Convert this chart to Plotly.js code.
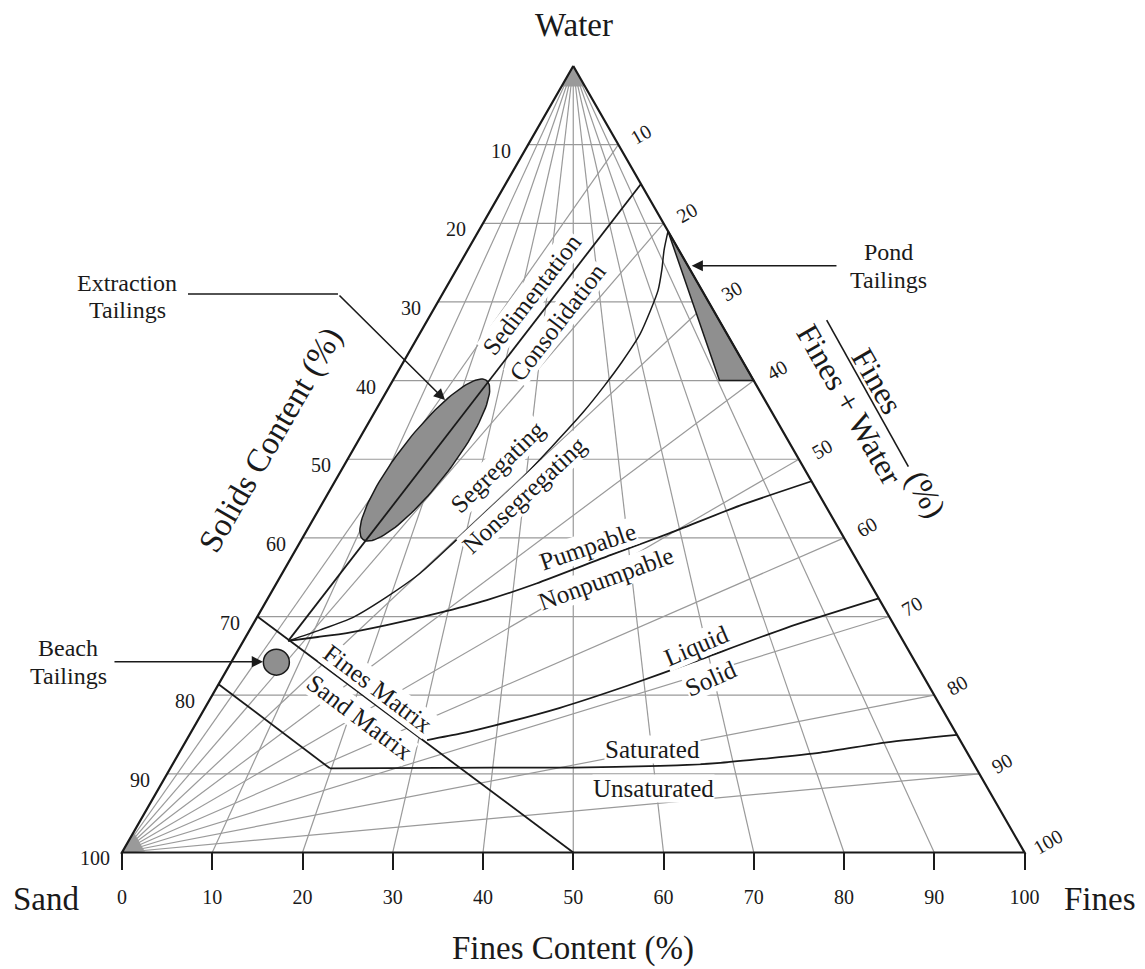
<!DOCTYPE html>
<html>
<head>
<meta charset="utf-8">
<script src="https://cdn.plot.ly/plotly-3.0.1.min.js"></script>
<style>html,body{margin:0;padding:0;background:#fff;}</style>
</head>
<body>
<div id="chart" style="width:1145px;height:969px;"></div>
<script>
// ---- Axis ticks ----
const solidsTicks = [10, 20, 30, 40, 50, 60, 70, 80, 90, 100];          // left edge
const finesContentTicks = [0, 10, 20, 30, 40, 50, 60, 70, 80, 90, 100];  // base
const finesWaterTicks = [10, 20, 30, 40, 50, 60, 70, 80, 90, 100];       // right edge

// ---- Grid families ----
const solidsGrid = [10, 20, 30, 40, 50, 60, 70, 80, 90];        // horizontal lines
const finesContentGrid = [10, 20, 30, 40, 50, 60, 70, 80, 90];  // rays from the Water apex
const finesWaterGrid = [10, 20, 30, 40, 50, 60, 70, 80, 90];    // rays from the Sand corner

// ---- Boundaries: solids content (%) and fines content (%) ----
const sedimentS  = [15, 73.1];
const sedimentFc = [100, 6.8];

const segregS  = [21.0, 23.4, 25.9, 28.5, 31.0, 34.1, 37.6, 40.7, 43.9, 48.4, 52.8, 56.7, 60.7, 64.5, 67.5, 70.1, 71.7, 73.1];
const segregFc = [100, 93.0, 87.9, 83.0, 77.7, 71.7, 64.4, 58.4, 52.7, 45.1, 38.6, 32.9, 28.0, 23.7, 19.4, 15.2, 10.9, 6.8];

const pumpS  = [73.1, 72.6, 72.1, 71.1, 69.6, 67.9, 65.8, 62.2, 59.4, 55.9, 52.8];
const pumpFc = [6.8, 11.0, 15.2, 20.9, 28.3, 35.9, 43.8, 56.6, 68.0, 83.0, 100];

const liquidS  = [85.7, 84.9, 83.9, 81.6, 78.8, 75.8, 71.4, 67.7];
const liquidFc = [31.1, 35.2, 39.4, 48.2, 57.6, 67.5, 83.2, 100];

const matrixS  = [70, 100];
const matrixFc = [0, 50];

const saturEdgeS  = [78.6, 89.3];
const saturEdgeFc = [0, 19.8];
const saturS  = [89.3, 89.2, 89.2, 89.0, 88.6, 87.3, 86.0, 85.05];
const saturFc = [19.8, 40, 50, 60.8, 68.4, 81.4, 90.4, 100];

// ---- Tailings streams ----
const pondS  = [21.0, 40, 40];
const pondFc = [100, 100, 90.5];

const extractionEndS  = [40, 60.2];   // long axis end points
const extractionEndFc = [26, 11.3];
const extractionHalfWidth = 2.8;      // chart units

const beachS  = [75.8];
const beachFc = [6.6];

// ---- Geometry: (solids %, fines content %) -> chart x,y ----
const R3 = Math.sqrt(3) / 2;
function toXY(s, fc) {
  const w = 100 - s;
  const f = s * fc / 100;
  return [f + w / 2, w * R3];
}
function curve(sArr, fcArr) {
  const xs = [], ys = [];
  sArr.forEach((s, i) => { const p = toXY(s, fcArr[i]); xs.push(p[0]); ys.push(p[1]); });
  return {x: xs, y: ys};
}

const SERIF = 'Liberation Serif, Times New Roman, serif';
const INK = '#1a1a1a';
const GRID = '#9a9a9a';
const SHADE = '#8f8f8f';

// grid as one broken polyline
const gx = [], gy = [];
function seg(a, b) { gx.push(a[0], b[0], null); gy.push(a[1], b[1], null); }
solidsGrid.forEach(s => seg(toXY(s, 0), toXY(s, 100)));
finesContentGrid.forEach(fc => seg(toXY(0, fc), toXY(100, fc)));
finesWaterGrid.forEach(p => seg(toXY(100, 0), toXY(p, 100)));

const traces = [];
traces.push({x: gx, y: gy, mode: 'lines', line: {color: GRID, width: 1.2}, hoverinfo: 'skip', connectgaps: false});

// where the rays crowd together at the Water apex and the Sand corner
(function () {
  const tip = curve([0, 2.6, 2.6, 0], [50, 0, 100, 50]);
  traces.push({x: tip.x, y: tip.y, mode: 'lines', fill: 'toself', fillcolor: GRID, line: {width: 0}, hoverinfo: 'skip'});
  const reach = 2.6;                       // fines + water (%) at the edge of the fan
  const fx = [0], fy = [0];
  [0, 20, 40, 60, 80, 95].forEach(p => {
    const f = reach * p / 100, w = reach - f;
    fx.push(f + w / 2); fy.push(w * R3);
  });
  fx.push(0); fy.push(0);
  traces.push({x: fx, y: fy, mode: 'lines', fill: 'toself', fillcolor: GRID, line: {width: 0}, hoverinfo: 'skip'});
})();

// extraction tailings ellipse
(function () {
  const a0 = toXY(extractionEndS[0], extractionEndFc[0]);
  const a1 = toXY(extractionEndS[1], extractionEndFc[1]);
  const cx = (a0[0] + a1[0]) / 2, cy = (a0[1] + a1[1]) / 2;
  const a = Math.hypot(a1[0] - a0[0], a1[1] - a0[1]) / 2;
  const ang = Math.atan2(a1[1] - a0[1], a1[0] - a0[0]);
  const b = extractionHalfWidth;
  const ex = [], ey = [];
  for (let i = 0; i <= 120; i++) {
    const t = 2 * Math.PI * i / 120;
    ex.push(cx + a * Math.cos(t) * Math.cos(ang) - b * Math.sin(t) * Math.sin(ang));
    ey.push(cy + a * Math.cos(t) * Math.sin(ang) + b * Math.sin(t) * Math.cos(ang));
  }
  traces.push({x: ex, y: ey, mode: 'lines', fill: 'toself', fillcolor: SHADE, line: {color: INK, width: 1.5}, hoverinfo: 'skip'});
})();

// pond tailings wedge
(function () {
  const c = curve(pondS.concat([pondS[0]]), pondFc.concat([pondFc[0]]));
  traces.push({x: c.x, y: c.y, mode: 'lines', fill: 'toself', fillcolor: SHADE, line: {color: INK, width: 1.5}, hoverinfo: 'skip'});
})();

// boundaries
function addLine(sArr, fcArr, shape, width) {
  const c = curve(sArr, fcArr);
  traces.push({x: c.x, y: c.y, mode: 'lines', line: {color: INK, width: width || 1.8, shape: shape || 'linear', smoothing: 0.6}, hoverinfo: 'skip'});
}
addLine(sedimentS, sedimentFc);
addLine(segregS, segregFc, 'spline', 1.5);
addLine(pumpS, pumpFc, 'spline');
addLine(liquidS, liquidFc, 'spline');
addLine(matrixS, matrixFc);
addLine(saturEdgeS, saturEdgeFc);
addLine(saturS, saturFc, 'spline');

// triangle frame
(function () {
  const c = curve([0, 100, 100, 0], [50, 0, 100, 50]);
  traces.push({x: c.x, y: c.y, mode: 'lines', line: {color: INK, width: 2.2}, hoverinfo: 'skip'});
})();

// beach tailings
(function () {
  const c = curve(beachS, beachFc);
  traces.push({x: c.x, y: c.y, mode: 'markers', marker: {size: 26, color: SHADE, line: {color: INK, width: 1.5}}, hoverinfo: 'skip'});
})();

// ---- Text ----
const ann = [];
function txt(x, y, text, size, angle, extra) {
  ann.push(Object.assign({x: x, y: y, xref: 'x', yref: 'y', text: text, showarrow: false,
    textangle: angle || 0, font: {family: SERIF, size: size, color: INK}}, extra || {}));
}
const mask = {bgcolor: '#ffffff', borderpad: 0};

// left edge: solids content
solidsTicks.forEach(s => {
  const p = toXY(s, 0);
  txt(p[0], p[1], String(s), 20, 0, {xshift: -27, yshift: -6});
});
// right edge: fines / (fines + water)
finesWaterTicks.forEach(v => {
  const p = toXY(v, 100);
  txt(p[0], p[1], String(v), 20, -30, {xshift: 23, yshift: 10.5});
});

// corners and axis titles
txt(50.08, 91.12, 'Water', 33);
txt(-8.42, -5.12, 'Sand', 33);
txt(108.37, -5.12, 'Fines', 33);
txt(49.97, -10.52, 'Fines Content (%)', 33);
txt(16.40, 45.42, 'Solids Content (%)', 33, -60);
txt(83.71, 51.94, 'Fines', 32, 60);
txt(80.66, 49.27, 'Fines + Water', 32, 60);
txt(89.09, 39.47, '(%)', 32, 60);

// zone labels
txt(45.43, 61.39, 'Sedimentation', 25, -52.5, mask);
txt(48.20, 58.41, 'Consolidation', 25, -52.5, mask);
txt(41.66, 42.45, 'Segregating', 25, -44, mask);
txt(44.65, 39.37, 'Nonsegregating', 25, -43, mask);
txt(51.63, 33.64, 'Pumpable', 25, -19, mask);
txt(53.63, 30.22, 'Nonpumpable', 25, -20, mask);
txt(63.71, 22.74, 'Liquid', 25, -23, mask);
txt(65.26, 19.21, 'Solid', 25, -24, mask);
txt(58.73, 11.29, 'Saturated', 25, 0, mask);
txt(58.84, 7.10, 'Unsaturated', 25, 0, mask);
txt(28.37, 18.11, 'Fines Matrix', 25, 37, mask);
txt(26.37, 14.81, 'Sand Matrix', 25, 37, mask);

// callouts
txt(0.55, 62.71, 'Extraction', 24);
txt(0.60, 59.73, 'Tailings', 24);
txt(84.88, 66.12, 'Pond', 24);
txt(84.88, 63.04, 'Tailings', 24);
txt(-5.98, 22.52, 'Beach', 24);
txt(-5.98, 19.43, 'Tailings', 24);

function arrow(tx, ty, hx, hy) {
  ann.push({x: hx, y: hy, ax: tx, ay: ty, xref: 'x', yref: 'y', axref: 'x', ayref: 'y',
    text: '', showarrow: true, arrowhead: 2, arrowsize: 1.4, arrowwidth: 1.6, arrowcolor: INK, standoff: 0});
}
// extraction leader: horizontal run, then diagonal to the ellipse
traces.push({x: [7.31, 23.93], y: [61.49, 61.49], mode: 'lines', line: {color: INK, width: 1.6}, hoverinfo: 'skip'});
arrow(23.93, 61.49, 35.79, 49.82);
arrow(79.33, 64.61, 63.12, 64.61);
arrow(-1.0, 21.01, 15.62, 21.01);

// fraction bar of the right-hand title
const shapes = [{type: 'line', xref: 'x', yref: 'y', x0: 78.08, y0: 58.63, x1: 87.13, y1: 42.48,
  line: {color: INK, width: 1.6}}];

const layout = {
  width: 1145, height: 969, autosize: false,
  margin: {l: 0, r: 0, t: 0, b: 0, pad: 0},
  paper_bgcolor: '#ffffff', plot_bgcolor: '#ffffff',
  showlegend: false,
  xaxis: {
    range: [-13.518, 113.35], anchor: 'free', position: 12.83 / (93.87 + 12.83),
    showgrid: false, zeroline: false, showline: false,
    tickmode: 'array', tickvals: finesContentTicks, ticktext: finesContentTicks.map(String),
    ticks: 'outside', ticklen: 17, tickwidth: 2, tickcolor: INK,
    tickfont: {family: SERIF, size: 20, color: INK}, ticklabelstandoff: 10,
    fixedrange: true
  },
  yaxis: {range: [-12.83, 93.87], visible: false, fixedrange: true},
  annotations: ann,
  shapes: shapes
};

Plotly.newPlot('chart', traces, layout, {staticPlot: true, displayModeBar: false});
</script>
</body>
</html>
